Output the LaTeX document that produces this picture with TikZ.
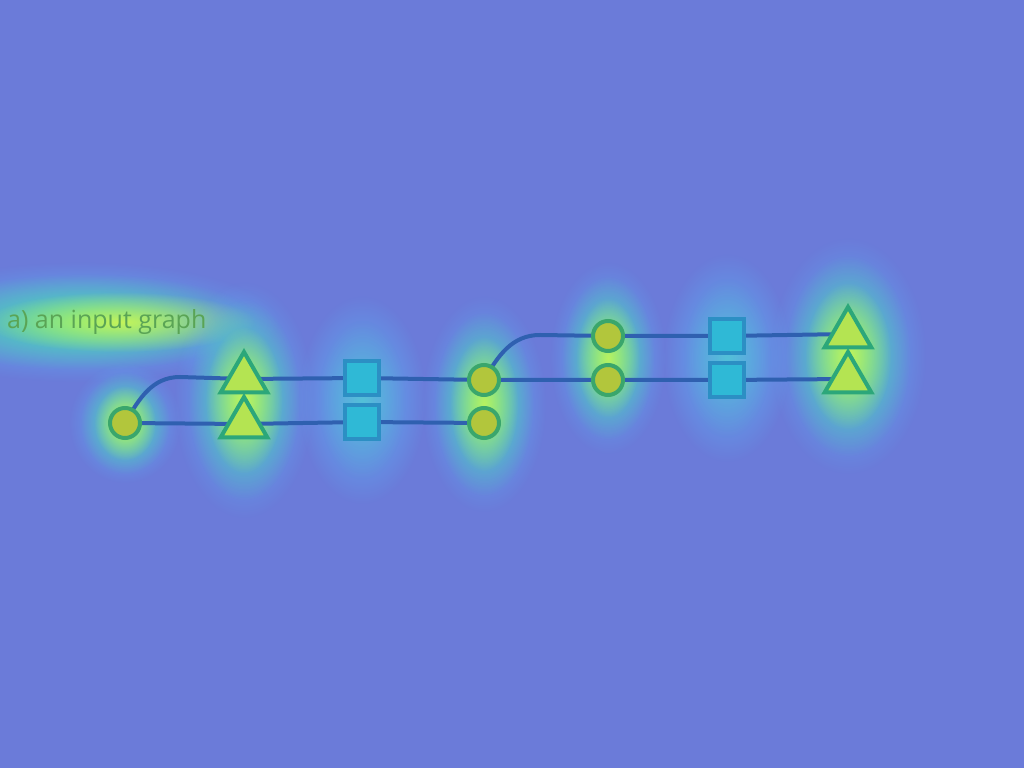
\documentclass[tikz,border=0pt]{standalone}
\usepackage{fontspec}
\setmainfont{Open Sans}
\usetikzlibrary{fadings,shapes.geometric,backgrounds}
\tikzfading[name=glowfade, inner color=transparent!0, outer color=transparent!100]
\definecolor{bgc}{HTML}{6B7BD9}
\definecolor{linec}{HTML}{2F60B0}
\definecolor{circfill}{HTML}{B2C63C}
\definecolor{circdraw}{HTML}{3AA66C}
\definecolor{trifill}{HTML}{B4E452}
\definecolor{tridraw}{HTML}{2CA77A}
\definecolor{sqfill}{HTML}{2FB9D6}
\definecolor{sqdraw}{HTML}{2C8FC4}
\definecolor{glowblue}{HTML}{5AB2F6}
\definecolor{glowgreen}{HTML}{48DCA0}
\definecolor{glowyellow}{HTML}{C4F45A}
\definecolor{labelc}{HTML}{5AA455}
\tikzset{
  dot/.style={circle, minimum size=30pt, inner sep=0pt, line width=4pt, draw=circdraw, fill=circfill},
  tri/.style={regular polygon, regular polygon sides=3, minimum size=54pt, inner sep=0pt, line width=4pt, draw=tridraw, fill=trifill},
  box/.style={rectangle, minimum size=34pt, inner sep=0pt, line width=4pt, draw=sqdraw, fill=sqfill},
  edge/.style={draw=linec, line width=4pt, line cap=round},
  glow/.style={path fading=glowfade},
}
\begin{document}
\begin{tikzpicture}[x=1pt,y=1pt]
\useasboundingbox (0,0) rectangle (1024,768);
% nodes
\node[dot] (c1) at (125,345) {};
\node[tri] (t1) at (244,389) {};
\node[tri] (t2) at (244,344) {};
\node[box] (s1) at (362,390) {};
\node[box] (s2) at (362,346) {};
\node[dot] (o2) at (484,388) {};
\node[dot] (o3) at (484,345) {};
\node[dot] (o4) at (608,432) {};
\node[dot] (o5) at (608,388) {};
\node[box] (s3) at (727,432) {};
\node[box] (s4) at (727,388) {};
\node[tri] (t3) at (848,434) {};
\node[tri] (t4) at (848,389) {};
\coordinate (k1) at (180,391);
\coordinate (k2) at (540,433);
\node[font=\fontsize{25}{28}\selectfont, text=labelc, anchor=west, inner sep=0pt] (lbl) at (7,446) {a) an input graph};
\begin{scope}[on background layer]
\fill[bgc] (0,0) rectangle (1024,768);
% glows
\fill[glowblue, glow] (80,446) ellipse [x radius=200, y radius=60];
\fill[glowgreen, glow] (85,446) ellipse [x radius=175, y radius=48];
\fill[glowyellow, glow] (120,446) ellipse [x radius=135, y radius=30];
\foreach \x/\y/\rx/\ry/\s in {125/345/56/60/1, 244/368/70/118/1, 484/364/62/108/0.9, 608/410/58/96/0.9, 848/412/78/118/1}{
  \fill[glowblue, glow] (\x,\y) ellipse [x radius=\rx, y radius=\ry];
  \fill[glowgreen, glow] (\x,\y) ellipse [x radius={0.8*\rx}, y radius={0.85*\ry}];
  \fill[glowyellow, glow, opacity=\s] (\x,\y) ellipse [x radius={0.55*\rx}, y radius={0.62*\ry}];
}
\foreach \x/\y in {362/368, 727/410}{
  \fill[glowblue, glow] (\x,\y) ellipse [x radius=64, y radius=104];
  \fill[glowgreen, glow, opacity=0.35] (\x,\y) ellipse [x radius=44, y radius=80];
}
% edges
\draw[edge] (c1.center) to[out=60,in=180] (k1) -- (t1.center) -- (s1.center) -- (o2.center);
\draw[edge] (c1.center) -- (t2.center) -- (s2.center) -- (o3.center);
\draw[edge] (o2.center) to[out=60,in=180] (k2) -- (o4.center) -- (s3.center) -- (t3.center);
\draw[edge] (o2.center) -- (o5.center) -- (s4.center) -- (t4.center);
\end{scope}
\end{tikzpicture}
\end{document}
